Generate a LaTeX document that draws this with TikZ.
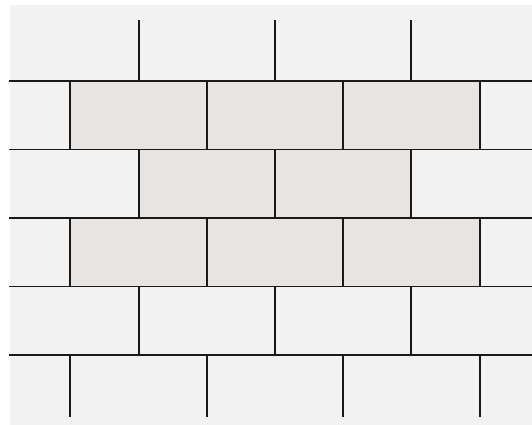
\documentclass[tikz,border=0pt]{standalone}
\begin{document}
\begin{tikzpicture}[x=1pt,y=-1pt,
  joint/.style={draw=black!90,line width=1.7pt},
  softjoint/.style={draw=black!55,line width=1.7pt},
  tile/.style={fill=tilecol}]
\definecolor{bgcol}{HTML}{F2F2F2}
\definecolor{tilecol}{HTML}{E8E4E1}
\useasboundingbox (0,0) rectangle (532,425);
\fill[bgcol] (10,5) rectangle (532,425);
% highlighted tiles
\foreach \a in {70,207,343} {
  \fill[tilecol] (\a,81) rectangle ++(137,68.5);
  \fill[tilecol] (\a,218) rectangle ++(137,68.5);
}
\foreach \a in {139,275} {
  \fill[tilecol] (\a,149.5) rectangle ++(136,68.5);
}
% horizontal joints
\foreach \y in {81,149.5,218,286.5,355} {
  \draw[joint] (9,\y) -- (532,\y);
}
% vertical joints, offset rows
\foreach \a in {139,275,411} {
  \draw[joint] (\a,20) -- (\a,81);
  \draw[joint] (\a,149.5) -- (\a,218);
  \draw[joint] (\a,286.5) -- (\a,355);
}
\foreach \a in {70,207,343,480} {
  \draw[joint] (\a,81) -- (\a,149.5);
  \draw[joint] (\a,218) -- (\a,286.5);
  \draw[joint] (\a,355) -- (\a,417);
}
\end{tikzpicture}
\end{document}
